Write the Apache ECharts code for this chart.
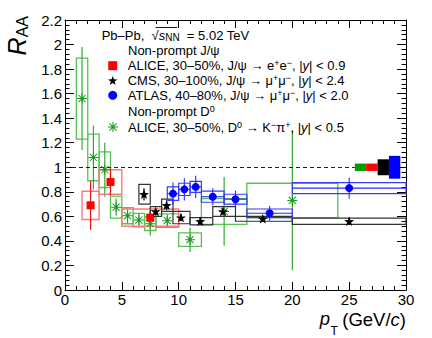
<!DOCTYPE html>
<html><head><meta charset="utf-8">
<script src="https://cdn.jsdelivr.net/npm/echarts@6/dist/echarts.min.js"></script>
<style>html,body{margin:0;padding:0;background:#fff}#c{width:432px;height:338px}</style>
</head><body><div id="c"></div>
<script>
// ---------------- data ----------------
const xMin = 0, xMax = 30, xStep = 5;
const yMin = 0, yMax = 2.2, yStep = 0.2;

// ALICE non-prompt J/psi, 30-50%
const aliceJpsiPt     = [2.25, 4.0, 7.5];
const aliceJpsiPtLow  = [1.5, 3.0, 5.0];
const aliceJpsiPtHigh = [3.0, 5.0, 10.0];
const aliceJpsiRaa    = [0.69, 0.88, 0.59];
const aliceJpsiStat   = [0.20, 0.11, 0.06];
const aliceJpsiSyst   = [0.115, 0.10, 0.07];

// CMS non-prompt J/psi, 30-100%
const cmsPt     = [6.95, 7.97, 8.94, 10.2, 11.9, 13.9, 17.4, 25.0];
const cmsPtLow  = [6.5, 7.5, 8.5, 9.5, 11, 13, 15, 20];
const cmsPtHigh = [7.5, 8.5, 9.5, 11, 13, 15, 20, 30];
const cmsRaa    = [0.78, 0.64, 0.69, 0.59, 0.56, 0.64, 0.58, 0.56];
const cmsStat   = [0.05, 0.03, 0.04, 0.03, 0.03, 0.03, 0.025, 0.03];
const cmsSyst   = [0.08, 0.04, 0.05, 0.05, 0.03, 0.04, 0.02, 0.026];

// ATLAS non-prompt J/psi, 40-80%
const atlasPt     = [9.5, 10.5, 11.5, 13, 15, 18, 25];
const atlasPtLow  = [9, 10, 11, 12, 14, 16, 20];
const atlasPtHigh = [10, 11, 12, 14, 16, 20, 30];
const atlasRaa    = [0.785, 0.82, 0.84, 0.76, 0.74, 0.625, 0.83];
const atlasStat   = [0.09, 0.09, 0.09, 0.07, 0.07, 0.06, 0.085];
const atlasSyst   = [0.055, 0.05, 0.045, 0.045, 0.04, 0.035, 0.045];

// ALICE non-prompt D0, 30-50%
const d0Pt     = [1.5, 2.5, 3.5, 4.5, 5.5, 6.5, 7.5, 9, 11, 14, 20];
const d0PtLow  = [1, 2, 3, 4, 5, 6, 7, 8, 10, 12, 16];
const d0PtHigh = [2, 3, 4, 5, 6, 7, 8, 10, 12, 16, 24];
const d0Raa    = [1.56, 1.08, 0.98, 0.675, 0.605, 0.57, 0.54, 0.565, 0.41, 0.64, 0.73];
const d0Stat   = [0.42, 0.26, 0.22, 0.07, 0.06, 0.06, 0.095, 0.05, 0.10, 0.28, 0.57];
const d0Syst   = [0.33, 0.19, 0.145, 0.09, 0.065, 0.055, 0.055, 0.055, 0.055, 0.105, 0.14];

// normalisation uncertainty boxes at unity (D0, ALICE J/psi, CMS, ATLAS)
const normPt    = [26, 27, 28, 29];
const normUnc   = [0.03, 0.03, 0.065, 0.093];
const normColor = ['#009a00', '#ff0000', '#000000', '#0000ff'];
const unityValue = 1;
const unityLineEnd = 25.5;

// ---------------- styling ----------------
const FONT = 'Liberation Sans, Arial, Helvetica, sans-serif';
const SQUARE = 'path://M0,0h10v10h-10z';
const STAR = 'path://M0,-10L2.35,-3.24L9.51,-3.09L3.8,1.24L5.88,8.09L0,4L-5.88,8.09L-3.8,1.24L-9.51,-3.09L-2.35,-3.24Z';
const ASTER = 'path://M-1,-10L1,-10L1,10L-1,10Z M-10,-1L10,-1L10,1L-10,1Z M-6.36,-7.78L7.78,6.36L6.36,7.78L-7.78,-6.36Z M7.78,-6.36L-6.36,7.78L-7.78,6.36L6.36,-7.78Z';

const nameAliceJ = 'ALICE, 30–50%, J/ψ → e⁺e⁻, |y| < 0.9';
const nameCms    = 'CMS, 30–100%, J/ψ → μ⁺μ⁻, |y| < 2.4';
const nameAtlas  = 'ATLAS, 40–80%, J/ψ → μ⁺μ⁻, |y| < 2.0';
const nameD0     = 'ALICE, 30–50%, D⁰ → K⁻π⁺, |y| < 0.5';
const richNames = {};
richNames[nameAliceJ] = '{t|ALICE, 30–50%, J/ψ → e}{sup|+}{t|e}{sup|−}{t|, |}{i|y}{t|| < 0.9}';
richNames[nameCms]    = '{t|CMS, 30–100%, J/ψ → μ}{sup|+}{t|μ}{sup|−}{t|, |}{i|y}{t|| < 2.4}';
richNames[nameAtlas]  = '{t|ATLAS, 40–80%, J/ψ → μ}{sup|+}{t|μ}{sup|−}{t|, |}{i|y}{t|| < 2.0}';
richNames[nameD0]     = '{t|ALICE, 30–50%, D}{sup|0}{t| → K}{sup|−}{t|π}{sup|+}{t|, |}{i|y}{t|| < 0.5}';

const FS = 13;
const RICH = {
  t:   {fontFamily: FONT, fontSize: FS, lineHeight: 14, color: '#000'},
  i:   {fontFamily: FONT, fontSize: FS, lineHeight: 14, fontStyle: 'italic', color: '#000'},
  sup: {fontFamily: FONT, fontSize: 9, lineHeight: 7, verticalAlign: 'top', color: '#000'},
  sub: {fontFamily: FONT, fontSize: 10, lineHeight: 8, verticalAlign: 'bottom', color: '#000'}
};

function rows(pt, raa, lo, hi, st, sy) {
  return pt.map((p, k) => [p, raa[k], lo[k], hi[k], st[k], sy[k]]);
}

function errRender(boxColor, boxW, statColor, statW, xBar) {
  return function (params, api) {
    const x = api.value(0), y = api.value(1), lo = api.value(2), hi = api.value(3);
    const st = api.value(4), sy = api.value(5);
    const a = api.coord([lo, y + sy]), b = api.coord([hi, y - sy]);
    const c1 = api.coord([x, y + st]), c2 = api.coord([x, y - st]);
    const children = [
      {type: 'rect', shape: {x: a[0], y: a[1], width: b[0] - a[0], height: b[1] - a[1]},
       style: {fill: 'none', stroke: boxColor, lineWidth: boxW}},
      {type: 'line', shape: {x1: c1[0], y1: c1[1], x2: c2[0], y2: c2[1]},
       style: {stroke: statColor, lineWidth: statW}}
    ];
    if (xBar) {
      const l = api.coord([lo, y]), r = api.coord([hi, y]);
      children.push({type: 'line', shape: {x1: l[0], y1: l[1], x2: r[0], y2: r[1]},
        style: {stroke: statColor, lineWidth: statW}});
    }
    return {type: 'group', children: children};
  };
}

function errSeries(id, data, boxColor, boxW, statColor, statW, xBar) {
  return {type: 'custom', name: id, silent: true, animation: false, z: 2,
    renderItem: errRender(boxColor, boxW, statColor, statW, xBar),
    encode: {x: 0, y: 1}, data: data};
}
function markerSeries(name, pt, raa, symbol, size, color) {
  return {type: 'scatter', name: name, symbol: symbol, symbolSize: size, symbolKeepAspect: true,
    animation: false, silent: true, z: 5, itemStyle: {color: color, opacity: 1},
    data: pt.map((p, k) => [p, raa[k]])};
}

const axisCommon = {
  type: 'value',
  axisLine: {show: true, onZero: false, lineStyle: {color: '#000', width: 1}},
  splitLine: {show: false}
};

const chart = echarts.init(document.getElementById('c'), null, {renderer: 'svg'});
chart.setOption({
  backgroundColor: '#fff',
  animation: false,
  grid: {left: 65, right: 26, top: 20, bottom: 48, containLabel: false},
  xAxis: [
    Object.assign({}, axisCommon, {min: xMin, max: xMax, interval: xStep, position: 'bottom',
      axisTick: {show: true, inside: true, length: 8, lineStyle: {color: '#000'}},
      minorTick: {show: true, splitNumber: 5, length: 4, lineStyle: {color: '#000'}},
      axisLabel: {show: true, margin: 4, color: '#000', fontSize: 15, lineHeight: 11, fontFamily: FONT}}),
    Object.assign({}, axisCommon, {min: xMin, max: xMax, interval: xStep, position: 'top',
      axisTick: {show: true, inside: true, length: 8, lineStyle: {color: '#000'}},
      minorTick: {show: true, splitNumber: 5, length: 4, lineStyle: {color: '#000'}},
      axisLabel: {show: false}})
  ],
  yAxis: [
    Object.assign({}, axisCommon, {min: yMin, max: yMax, interval: yStep, position: 'left',
      axisTick: {show: true, inside: true, length: 9, lineStyle: {color: '#000'}},
      minorTick: {show: true, splitNumber: 5, length: 4.5, lineStyle: {color: '#000'}},
      axisLabel: {show: true, margin: 3, color: '#000', fontSize: 15, fontFamily: FONT}}),
    Object.assign({}, axisCommon, {min: yMin, max: yMax, interval: yStep, position: 'right',
      axisTick: {show: true, inside: true, length: 9, lineStyle: {color: '#000'}},
      minorTick: {show: true, splitNumber: 5, length: 4.5, lineStyle: {color: '#000'}},
      axisLabel: {show: false}})
  ],
  legend: [
    {orient: 'vertical', left: 108, top: 58.7, padding: 0, itemWidth: 20, itemHeight: 9, itemGap: 1.3,
     selectedMode: false, symbolKeepAspect: true,
     data: [{name: nameAliceJ, icon: SQUARE}, {name: nameCms, icon: STAR}, {name: nameAtlas, icon: 'circle'}],
     formatter: n => richNames[n], textStyle: {color: '#000', fontFamily: FONT, fontSize: FS, rich: RICH}},
    {orient: 'vertical', left: 108, top: 120, padding: 0, itemWidth: 20, itemHeight: 10, itemGap: 1.3,
     selectedMode: false, symbolKeepAspect: true,
     data: [{name: nameD0, icon: ASTER}],
     formatter: n => richNames[n], textStyle: {color: '#000', fontFamily: FONT, fontSize: FS, rich: RICH}}
  ],
  graphic: [
    {type: 'text', x: 101.7, y: 35, silent: true,
     style: {text: '{t|Pb–Pb,  √}{i|s}{sub|NN}{t|  = 5.02 TeV}', rich: RICH, align: 'left', verticalAlign: 'middle'}},
    {type: 'line', silent: true, shape: {x1: 155.5, y1: 27.5, x2: 177, y2: 27.5}, style: {stroke: '#000', lineWidth: 0.9}},
    {type: 'text', x: 128, y: 50.4, silent: true,
     style: {text: '{t|Non-prompt J/ψ}', rich: RICH, align: 'left', verticalAlign: 'middle'}},
    {type: 'text', x: 128, y: 111.6, silent: true,
     style: {text: '{t|Non-prompt D}{sup|0}', rich: RICH, align: 'left', verticalAlign: 'middle'}},
    {type: 'text', x: 17, y: 16, rotation: Math.PI / 2, silent: true,
     style: {text: '{r|R}{s|AA}', align: 'right', verticalAlign: 'middle',
       rich: {r: {fontFamily: FONT, fontSize: 25, fontStyle: 'italic', lineHeight: 26, color: '#000'},
              s: {fontFamily: FONT, fontSize: 16, lineHeight: 12, verticalAlign: 'bottom', color: '#000'}}}},
    {type: 'text', x: 406, y: 319.5, silent: true,
     style: {text: '{t|(GeV/}{i|c}{t|)}', align: 'right', verticalAlign: 'middle',
       rich: {t: {fontFamily: FONT, fontSize: 18.5, lineHeight: 14, color: '#000'},
              i: {fontFamily: FONT, fontSize: 18.5, lineHeight: 14, fontStyle: 'italic', color: '#000'}}}},
    {type: 'text', x: 330, y: 318.5, silent: true,
     style: {text: 'p', align: 'right', verticalAlign: 'middle', fontFamily: FONT, fontSize: 18.5,
       fontStyle: 'italic', lineHeight: 14, fill: '#000'}},
    {type: 'text', x: 330.5, y: 330.5, silent: true,
     style: {text: 'T', align: 'left', verticalAlign: 'middle', fontFamily: FONT, fontSize: 12,
       lineHeight: 10, fill: '#000'}}
  ],
  series: [
    errSeries('d0err', rows(d0Pt, d0Raa, d0PtLow, d0PtHigh, d0Stat, d0Syst), '#55c455', 1.3, '#33aa33', 1.2, false),
    errSeries('alicejerr', rows(aliceJpsiPt, aliceJpsiRaa, aliceJpsiPtLow, aliceJpsiPtHigh, aliceJpsiStat, aliceJpsiSyst), '#ff7a7a', 1.4, '#ee1111', 1.2, false),
    errSeries('cmserr', rows(cmsPt, cmsRaa, cmsPtLow, cmsPtHigh, cmsStat, cmsSyst), '#333333', 1.2, '#000000', 1.2, false),
    errSeries('atlaserr', rows(atlasPt, atlasRaa, atlasPtLow, atlasPtHigh, atlasStat, atlasSyst), '#3838ff', 1.2, '#2a2aff', 1.1, true),
    {type: 'custom', name: 'norm', silent: true, animation: false, z: 3,
     encode: {x: 0, y: 1},
     data: normPt.map((p, k) => [p, unityValue, normUnc[k]]),
     renderItem: function (params, api) {
       const x = api.value(0), y = api.value(1), u = api.value(2);
       const a = api.coord([x - 0.5, y + u]), b = api.coord([x + 0.5, y - u]);
       return {type: 'rect', shape: {x: a[0], y: a[1], width: b[0] - a[0], height: b[1] - a[1]},
         style: {fill: normColor[params.dataIndex], stroke: null}};
     },
     markLine: {silent: true, symbol: 'none', animation: false, label: {show: false},
       lineStyle: {color: '#222', width: 1, type: [4, 3]},
       data: [[{coord: [xMin, unityValue]}, {coord: [unityLineEnd, unityValue]}]]}},
    markerSeries(nameD0, d0Pt, d0Raa, ASTER, 10, '#1c961c'),
    markerSeries(nameAliceJ, aliceJpsiPt, aliceJpsiRaa, SQUARE, 8, '#ff0000'),
    markerSeries(nameCms, cmsPt, cmsRaa, STAR, 10, '#000000'),
    markerSeries(nameAtlas, atlasPt, atlasRaa, 'circle', 8, '#0000ff')
  ]
});
</script></body></html>
